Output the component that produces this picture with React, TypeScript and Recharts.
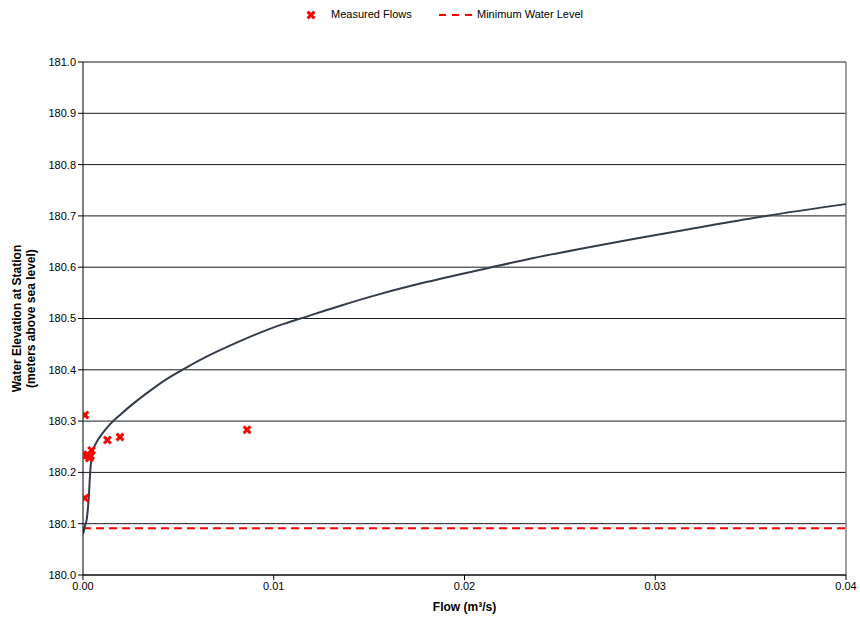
import React from "react";
import {
  ComposedChart,
  Line,
  Scatter,
  XAxis,
  YAxis,
  CartesianGrid,
  ReferenceLine,
} from "recharts";

// rating curve (flow m3/s, elevation m)
const curveFlow = [
  0, 0.0001, 0.0002, 0.0003, 0.00036, 0.00042, 0.0005, 0.0007, 0.001, 0.0014,
  0.002, 0.0027, 0.0034, 0.0043, 0.0053, 0.0065, 0.0077, 0.009, 0.0104, 0.0114,
  0.0135, 0.0156, 0.018, 0.0212, 0.0235, 0.0261, 0.029, 0.0325, 0.0358, 0.04,
];
const curveLevel = [
  180.08, 180.095, 180.11, 180.15, 180.19, 180.22, 180.24, 180.258, 180.275, 180.293,
  180.314, 180.336, 180.356, 180.38, 180.402, 180.426, 180.447, 180.468, 180.488, 180.5,
  180.525, 180.548, 180.571, 180.598, 180.617, 180.636, 180.656, 180.679, 180.7, 180.723,
];

// measured flows
const measuredFlow = [0.0001, 0.00002, 0.0002, 0.00033, 0.0004, 0.00045, 0.0001, 0.00128, 0.00194, 0.0086];
const measuredLevel = [180.312, 180.234, 180.234, 180.228, 180.232, 180.243, 180.15, 180.263, 180.269, 180.283];

const minWaterLevel = 180.091;

const xTicks = [0, 0.01, 0.02, 0.03, 0.04];
const yTicks = [180.0, 180.1, 180.2, 180.3, 180.4, 180.5, 180.6, 180.7, 180.8, 180.9, 181.0];

const curve = curveFlow.map((q, i) => ({ q, h: curveLevel[i] }));
const measured = measuredFlow.map((q, i) => ({ q, h: measuredLevel[i] }));

const FONT = '"Liberation Sans", Arial, sans-serif';
const RED = "#ff0000";

const Cross = (props: any) => {
  const { cx, cy } = props;
  if (cx == null || cy == null) return null;
  const s = 3.4;
  return (
    <path
      d={`M${cx - s},${cy - s}L${cx + s},${cy + s}M${cx - s},${cy + s}L${cx + s},${cy - s}`}
      stroke={RED}
      strokeWidth={3}
      fill="none"
    />
  );
};

const YTitle = (props: any) => {
  const vb = props.viewBox || {};
  const cy = vb.y + vb.height / 2;
  return (
    <text
      transform={`translate(0, ${cy}) rotate(-90)`}
      textAnchor="middle"
      fontFamily={FONT}
      fontSize={12}
      fontWeight="bold"
      fill="#000"
    >
      <tspan x={0} y={21}>Water Elevation at Station</tspan>
      <tspan x={0} y={35}>(meters above sea level)</tspan>
    </text>
  );
};

export default function App() {
  return (
    <div style={{ position: "absolute", left: 0, top: 0, width: 860, height: 622, background: "#fff", fontFamily: FONT }}>
      {/* Legend */}
      <div style={{ position: "absolute", top: 6, left: 0, width: 860, height: 18, fontSize: 11, color: "#000" }}>
        <svg width={10} height={10} style={{ position: "absolute", left: 306, top: 4 }}>
          <Cross cx={5} cy={5} />
        </svg>
        <span style={{ position: "absolute", left: 331, top: 2 }}>Measured Flows</span>
        <svg width={40} height={10} style={{ position: "absolute", left: 439, top: 4 }}>
          <line x1={0} y1={5} x2={38} y2={5} stroke={RED} strokeWidth={2} strokeDasharray="7 6" />
        </svg>
        <span style={{ position: "absolute", left: 477, top: 2 }}>Minimum Water Level</span>
      </div>

      <ComposedChart
        width={860}
        height={622}
        margin={{ top: 62, right: 14, bottom: 17, left: 0 }}
        style={{ fontFamily: FONT }}
      >
        <CartesianGrid horizontal vertical={false} stroke="#000" strokeOpacity={0.9} />
        <XAxis
          type="number"
          dataKey="q"
          domain={[0, 0.04]}
          ticks={xTicks}
          tickFormatter={(v: number) => v.toFixed(2)}
          allowDataOverflow
          height={30}
          stroke="#000"
          tick={{ fill: "#000", fontSize: 11, fontFamily: FONT }}
          tickSize={5}
          label={{ value: "Flow (m³/s)", position: "insideBottom", offset: -6, fontSize: 12, fontWeight: "bold", fill: "#000", fontFamily: FONT }}
        />
        <YAxis
          type="number"
          dataKey="h"
          domain={[180, 181]}
          ticks={yTicks}
          tickFormatter={(v: number) => v.toFixed(1)}
          allowDataOverflow
          width={83}
          stroke="#000"
          tick={{ fill: "#000", fontSize: 11, fontFamily: FONT }}
          tickSize={5}
          label={<YTitle />}
        />
        <ReferenceLine x={0.04} stroke="#808080" strokeWidth={1.5} ifOverflow="extendDomain" />
        <ReferenceLine y={minWaterLevel} stroke={RED} strokeWidth={2} strokeDasharray="8 5" />
        <Line
          data={curve}
          dataKey="h"
          type="monotone"
          stroke="#333d4a"
          strokeWidth={2}
          dot={false}
          activeDot={false}
          isAnimationActive={false}
        />
        <Scatter data={measured} dataKey="h" shape={<Cross />} isAnimationActive={false} />
      </ComposedChart>
    </div>
  );
}
